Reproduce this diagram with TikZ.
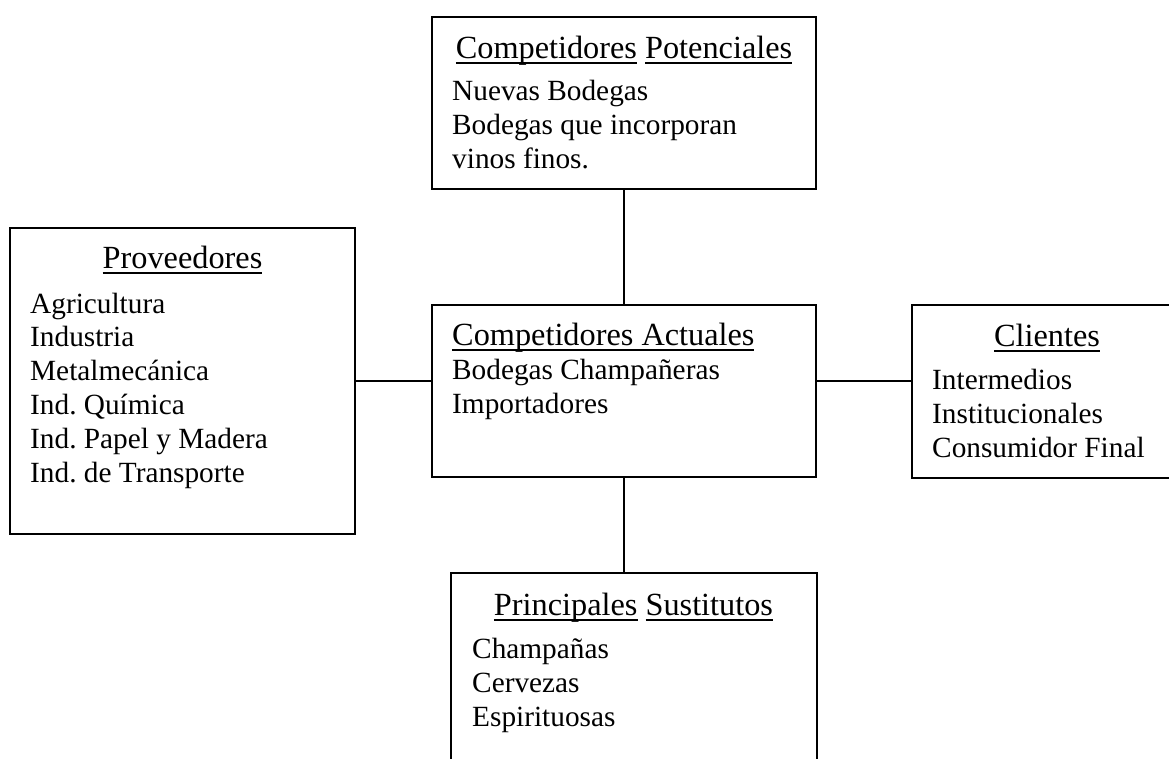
\documentclass[tikz,border=0pt]{standalone}
\usepackage{fontspec}
\setmainfont{Liberation Serif}
\frenchspacing
\newcommand{\undl}[1]{{\setbox0=\hbox{#1}\rlap{\rule[-5.5pt]{\wd0}{1.6pt}}\box0}}
\usetikzlibrary{positioning}

\begin{document}
\begin{tikzpicture}[x=1pt,y=-1pt]
          \tikzstyle{every node}+=[inner sep=0pt, font=\fontsize{29.3}{33.8}\selectfont\frenchspacing]
          \tikzstyle{box}=[draw=black, line width=1.6pt, rectangle]
          \tikzstyle{txt}=[anchor=base west, align=left]
          \tikzstyle{tit}=[anchor=base, font=\fontsize{32.3}{36}\selectfont]
          \useasboundingbox (0,0) rectangle (1169,758);
          % boxes
          \node [box, minimum width=384, minimum height=172] (pot) at (624,103) {};
          \node [box, minimum width=384, minimum height=172] (act) at (624,391) {};
          \node [box, minimum width=345, minimum height=306] (prov) at (182.5,381) {};
          \node [box, minimum width=270, minimum height=173] (cli) at (1047,391.5) {};
          \node [box, minimum width=366, minimum height=227] (sust) at (634,686.5) {};
          % texts (base = last line)
          \node [tit] (pot-tit) at (624,58) {\undl{Competidores} \undl{Potenciales}};
          \node [txt] (pot-txt) at (452,168) {Nuevas Bodegas\\Bodegas que incorporan\\vinos finos.};
          \node [tit] (prov-tit) at (182.5,268) {\undl{Proveedores}};
          \node [txt] (prov-txt) at (30,482) {Agricultura\\Industria\\Metalmecánica\\Ind. Química\\Ind. Papel y Madera\\Ind. de Transporte};
          \node [tit, anchor=base west] (act-tit) at (452,345) {\undl{Competidores Actuales}};
          \node [txt] (act-txt) at (452,413) {Bodegas Champañeras\\Importadores};
          \node [tit] (cli-tit) at (1047,346) {\undl{Clientes}};
          \node [txt] (cli-txt) at (932,457) {Intermedios\\Institucionales\\Consumidor Final};
          \node [tit] (sust-tit) at (633.5,615) {\undl{Principales} \undl{Sustitutos}};
          \node [txt] (sust-txt) at (472,726) {Champañas\\Cervezas\\Espirituosas};
          % links
          \draw [line width=1.6pt] (pot) -- (act);
          \draw [line width=1.6pt] (act.south) -- (act.south |- sust.north);
          \draw [line width=1.6pt] (prov.east) -- (prov.east -| act.west);
          \draw [line width=1.6pt] (prov.east -| act.east) -- (prov.east -| cli.west);
        \end{tikzpicture}
\end{document}
